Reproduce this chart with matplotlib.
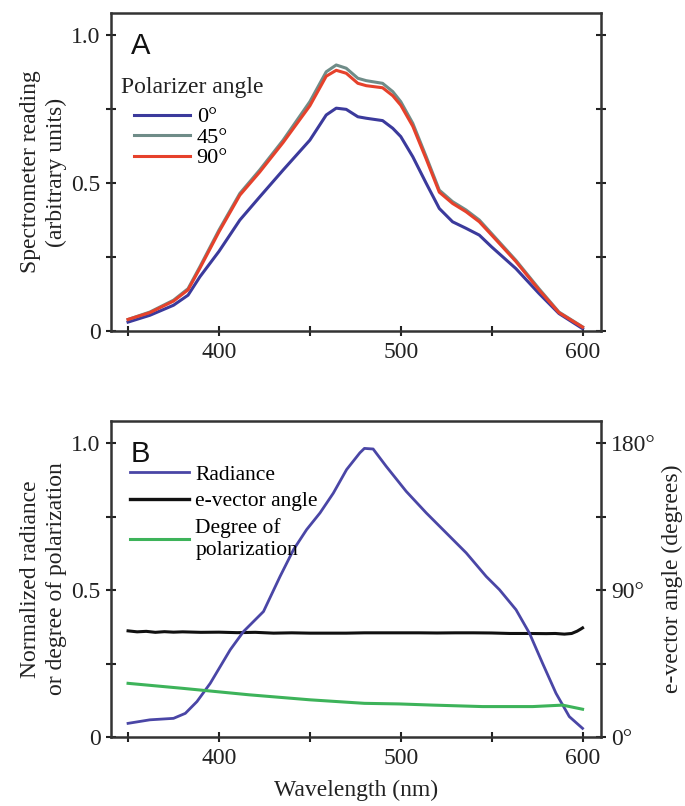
import numpy as np
import matplotlib.pyplot as plt
from matplotlib.ticker import FixedLocator

plt.rcParams['font.family'] = ['Liberation Serif', 'DejaVu Serif']

# panel A: spectrometer reading vs wavelength for three polarizer angles
wl_a = [350, 362, 375, 383, 389.5, 400, 411.5, 422.4, 435.3, 450, 459, 464.5,
        470, 476.4, 481, 490, 495.6, 500, 506.6, 514, 521.2, 528.5, 535.9,
        543.2, 550, 563.3, 576, 587, 600]
pol_0 = [0.031, 0.054, 0.088, 0.122, 0.184, 0.27, 0.376, 0.454, 0.545, 0.646,
         0.731, 0.754, 0.75, 0.725, 0.72, 0.712, 0.686, 0.658, 0.59, 0.5,
         0.415, 0.37, 0.348, 0.325, 0.285, 0.212, 0.128, 0.06, 0.009]
pol_45 = [0.04, 0.065, 0.105, 0.144, 0.218, 0.342, 0.466, 0.545, 0.646, 0.776,
          0.877, 0.9, 0.889, 0.855, 0.847, 0.838, 0.81, 0.776, 0.703, 0.59,
          0.477, 0.438, 0.41, 0.376, 0.33, 0.24, 0.144, 0.065, 0.015]
pol_90 = [0.04, 0.063, 0.102, 0.14, 0.213, 0.336, 0.46, 0.538, 0.638, 0.762,
          0.862, 0.882, 0.872, 0.838, 0.83, 0.823, 0.796, 0.764, 0.693, 0.582,
          0.47, 0.432, 0.404, 0.37, 0.325, 0.236, 0.14, 0.063, 0.014]
angle_labels = ['0°', '45°', '90°']

# panel B
wl_rad = [350, 362, 375, 381.5, 387.9, 395.2, 400.7, 406.2, 413.5, 424.5,
          433.6, 441, 448.2, 455.6, 462.9, 470.2, 477.5, 480, 484.8, 492, 503,
          514, 525, 536, 547, 554.3, 563.4, 570.8, 578, 585.4, 592.7, 600]
radiance = [0.048, 0.06, 0.065, 0.082, 0.122, 0.184, 0.241, 0.298, 0.36, 0.428,
            0.547, 0.638, 0.706, 0.763, 0.83, 0.91, 0.967, 0.982, 0.98, 0.921,
            0.836, 0.763, 0.695, 0.627, 0.547, 0.502, 0.434, 0.354, 0.252, 0.15,
            0.071, 0.031]

wl_ev = [350, 355, 360, 365, 370, 375, 380, 390, 400, 410, 420, 430, 440, 450,
         460, 470, 480, 490, 500, 510, 520, 530, 540, 550, 560, 570, 580, 585,
         590, 594, 597, 599, 600]
evector_deg = [65.2, 64.6, 64.9, 64.3, 64.7, 64.4, 64.6, 64.3, 64.4, 64.1,
               64.3, 63.8, 64.0, 63.8, 63.8, 63.8, 64.0, 64.0, 64.0, 64.0, 63.9,
               64.0, 64.0, 63.9, 63.6, 63.6, 63.5, 63.6, 63.2, 63.6, 65.0, 66.3,
               67.0]

wl_dop = [350, 380, 395, 416.6, 450, 480, 499, 517.7, 545, 572.6, 589, 600]
dop = [0.184, 0.167, 0.158, 0.145, 0.128, 0.116, 0.114, 0.11, 0.105, 0.105,
       0.11, 0.096]

fig = plt.figure(figsize=(6.85, 8.06), dpi=100)
axA = fig.add_axes([0.162, 0.589, 0.715, 0.395])
axB = fig.add_axes([0.162, 0.085, 0.715, 0.393])

FS = 17
LFS = 17
TC = '#222222'


def style(ax):
    ax.set_xlim(340.6, 610)
    ax.set_ylim(0, 1.076)
    ax.xaxis.set_major_locator(FixedLocator([350, 400, 450, 500, 550, 600]))
    ax.set_xticklabels(['', '400', '', '500', '', '600'])
    ax.set_yticks([0, 0.25, 0.5, 0.75, 1.0])
    ax.set_yticklabels(['0', '', '0.5', '', '1.0'])
    ax.tick_params(direction='inout', length=7, width=1.5, labelsize=FS,
                   colors=TC, labelcolor=TC, pad=4)
    for s in ax.spines.values():
        s.set_linewidth(1.8)
        s.set_color('#333333')


style(axA)
axA.tick_params(axis='y', right=True)
axA.plot(wl_a, pol_0, color='#3b3a9c', lw=2.2, label=angle_labels[0])
axA.plot(wl_a, pol_45, color='#6f8c88', lw=2.2, label=angle_labels[1])
axA.plot(wl_a, pol_90, color='#e6412b', lw=2.2, label=angle_labels[2])
axA.set_ylabel('Spectrometer reading\n(arbitrary units)', fontsize=LFS,
               color=TC, labelpad=3, linespacing=1.3)
axA.text(0.04, 0.94, 'A', transform=axA.transAxes, fontsize=21,
         family='Liberation Sans', va='top', ha='left', color='#111111')
axA.text(0.02, 0.765, 'Polarizer angle', transform=axA.transAxes,
         fontsize=FS, va='center', ha='left', color=TC)
axA.legend(loc='upper left', bbox_to_anchor=(0.048, 0.705), frameon=False,
           fontsize=16, handlelength=2.5, handletextpad=0.3,
           labelspacing=0.0, borderaxespad=0, borderpad=0)

style(axB)
axB.plot(wl_rad, radiance, color='#4a46a6', lw=2.0, label='Radiance')
axR = axB.twinx()
axR.set_ylim(0, 1.076 * 180)
axR.set_yticks([0, 45, 90, 135, 180])
axR.set_yticklabels(['0°', '', '90°', '', '180°'])
axR.tick_params(direction='inout', length=7, width=1.5, labelsize=FS,
                colors=TC, labelcolor=TC, pad=4)
for s in axR.spines.values():
    s.set_visible(False)
axR.plot(wl_ev, evector_deg, color='#111111', lw=2.2)
axB.plot([], [], color='#111111', lw=2.4, label='e-vector angle')
axB.plot(wl_dop, dop, color='#3db35a', lw=2.2, label='Degree of\npolarization')
axB.set_ylabel('Normalized radiance\nor degree of polarization', fontsize=LFS,
               color=TC, labelpad=3, linespacing=1.3)
axR.set_ylabel('e-vector angle (degrees)', fontsize=LFS, color=TC,
               labelpad=4)
axB.set_xlabel('Wavelength (nm)', fontsize=LFS, color=TC, labelpad=8)
axB.text(0.04, 0.94, 'B', transform=axB.transAxes, fontsize=21,
         family='Liberation Sans', va='top', ha='left', color='#111111')
axB.set_zorder(axR.get_zorder() + 1)
axB.patch.set_visible(False)
axB.legend(loc='upper left', bbox_to_anchor=(0.038, 0.862), frameon=False,
           fontsize=15.5, handlelength=2.75, handletextpad=0.3,
           labelspacing=0.32, borderaxespad=0, borderpad=0)

fig.savefig('out.png', dpi=100)
